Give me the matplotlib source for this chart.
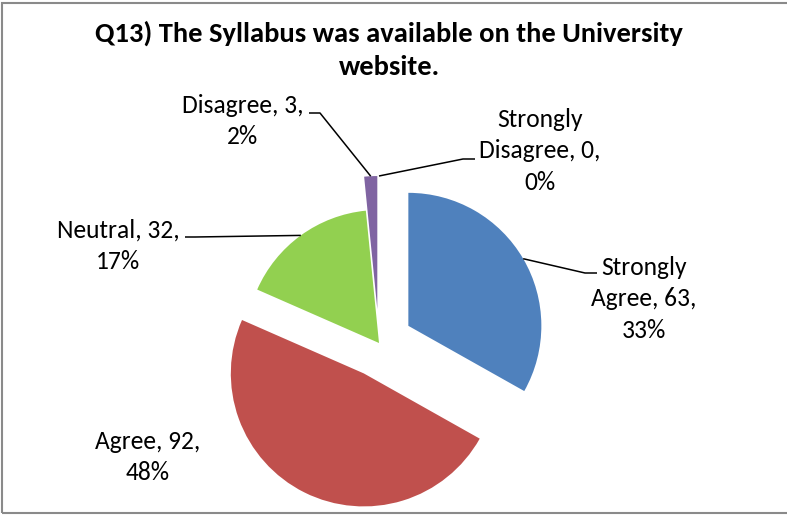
import matplotlib
matplotlib.use("Agg")
import matplotlib.pyplot as plt
from matplotlib.patches import Rectangle
from matplotlib import font_manager
import numpy as np

categories = ["Strongly Agree", "Agree", "Neutral", "Disagree", "Strongly Disagree"]
values = [63, 92, 32, 3, 0]
colors = ["#4F81BD", "#C0504D", "#92D050", "#8064A2", "#8064A2"]
title = "Q13) The Syllabus was available on the University\nwebsite."

avail = {f.name for f in font_manager.fontManager.ttflist}
fam = [f for f in ["Carlito", "Lato", "DejaVu Sans"] if f in avail]
plt.rcParams["font.family"] = fam
calibri = fam[0] == "Carlito"

W, H = 787, 515
fig = plt.figure(figsize=(W / 100, H / 100), dpi=100)
ax = fig.add_axes([0, 0, 1, 1])

# pixel-space helpers (y down -> y up)
def P(x, y):
    return (x, H - y)

center = P(379, 343)
radius = 133
exp_d = 34
explode = [exp_d, exp_d, 0, exp_d, exp_d]

wedges, _ = ax.pie(values, colors=colors, startangle=90, counterclock=False,
                   center=center, radius=radius, explode=explode,
                   wedgeprops=dict(linewidth=0))
ax.set_xlim(0, W)
ax.set_ylim(0, H)
ax.set_aspect("auto")
ax.axis("off")

total = sum(values)
def lab(c, v):
    name = c.replace("Strongly ", "Strongly\n")
    return f"{name}, {v},\n{round(100 * v / total)}%"

fs = 18.4 if calibri else 16.5
tfs = 20.5 if calibri else 18.6
label_pos = [P(644, 299), P(148, 457), P(118, 246), P(243, 121), P(540, 151)]
elbows = [(P(585, 273), P(597, 273)), None, (P(195, 237), P(185, 237)),
          (P(320, 113), P(309, 113)), (P(463, 159), P(475, 159))]

for w, c, v, pos, el in zip(wedges, categories, values, label_pos, elbows):
    ax.text(pos[0], pos[1], lab(c, v), ha="center", va="center",
            fontsize=fs, linespacing=1.45, color="black")
    if el is not None:
        tm = np.deg2rad((w.theta1 + w.theta2) / 2)
        ax_x = w.center[0] + w.r * np.cos(tm)
        ax_y = w.center[1] + w.r * np.sin(tm)
        xs = [ax_x, el[0][0], el[1][0]]
        ys = [ax_y, el[0][1], el[1][1]]
        ax.plot(xs, ys, color="black", lw=1.1, solid_capstyle="butt")

fig.text(389 / W, 1 - 50 / H, title, ha="center", va="center",
         fontsize=tfs, fontweight="bold", linespacing=1.42)

fig.patches.append(Rectangle((1.5 / W, 2.5 / H), 1.5, 1 - 5 / H,
                             transform=fig.transFigure, fill=False,
                             edgecolor="#8a8a8a", lw=1.5))

fig.savefig("out.png", dpi=100)
